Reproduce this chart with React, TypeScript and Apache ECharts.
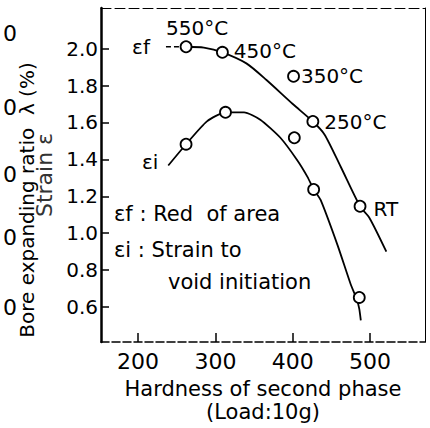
import React, { useEffect, useRef } from "react";
import * as echarts from "echarts";

// Measured points (hardness, strain)
const efX = [262, 309, 401, 426, 487];
const efY = [2.01, 1.98, 1.85, 1.605, 1.146];
const efLabels = ["550°C", "450°C", "350°C", "250°C", "RT"];
const eiX = [262, 313, 402, 427, 486];
const eiY = [1.482, 1.655, 1.517, 1.237, 0.652];

// Hand-drawn fitted curves
const efLeadX = [236, 262];
const efLeadY = [2.01, 2.01];
const efCurveX = [262, 285, 309, 340, 366, 400, 426, 441, 462, 487, 499, 521];
const efCurveY = [2.01, 2.005, 1.98, 1.92, 1.83, 1.7, 1.605, 1.535, 1.36, 1.146, 1.084, 0.9];
const eiCurveX = [239, 262, 289, 313, 337, 358, 384, 406, 419, 427, 436, 458, 475, 483, 486, 488];
const eiCurveY = [1.367, 1.482, 1.606, 1.655, 1.655, 1.615, 1.517, 1.394, 1.305, 1.237, 1.18, 0.934, 0.722, 0.64, 0.59, 0.528];

const xTicks = [200, 300, 400, 500];
const yTicks = [0.6, 0.8, 1.0, 1.2, 1.4, 1.6, 1.8, 2.0];

const curveNames = ["εf", "εi"];
const legendLines = ["εf : Red  of area", "εi : Strain to", "void initiation"];
const leftZeros = ["0", "0", "0", "0", "0"];

const FONT = "'DejaVu Sans', sans-serif";

export default function App() {
  const ref = useRef<HTMLDivElement>(null);
  useEffect(() => {
    if (!ref.current) return;
    const chart = echarts.init(ref.current, undefined, { renderer: "svg" });
    const zip = (xs: number[], ys: number[]) => xs.map((x, i) => [x, ys[i]]);
    const efLabelCfg = [
      { position: "top", offset: [11, 3] },
      { position: "right", offset: [0, -1] },
      { position: "right", offset: [-4, 0] },
      { position: "right", offset: [0, 0] },
      { position: "right", offset: [2, 3] },
    ];
    const zeroY = [33, 107, 174, 237, 307];
    const option: any = {
      animation: false,
      backgroundColor: "#fff",
      textStyle: { fontFamily: FONT, color: "#000" },
      grid: { left: 101, top: 8, right: 5, bottom: 79 },
      xAxis: [
        {
          type: "value",
          min: 152,
          max: 571,
          name: "Hardness of second phase\n(Load:10g)",
          nameLocation: "middle",
          nameGap: 30,
          nameTextStyle: { fontSize: 21, color: "#000", fontFamily: FONT, lineHeight: 23 },
          axisLine: { show: true, lineStyle: { color: "#000", width: 1.5, type: [8, 3] } },
          axisTick: { show: true, inside: true, length: 9, customValues: xTicks, lineStyle: { color: "#000", width: 1.5 } },
          axisLabel: { customValues: xTicks, fontSize: 22, color: "#000", margin: 8, fontFamily: FONT },
          splitLine: { show: false },
        },
        {
          type: "value",
          position: "top",
          min: 152,
          max: 571,
          axisLine: { show: true, lineStyle: { color: "#000", width: 1, type: [10, 4] } },
          axisTick: { show: false },
          axisLabel: { show: false },
          splitLine: { show: false },
        },
      ],
      yAxis: [
        {
          type: "value",
          min: 0.41,
          max: 2.22,
          name: "Strain ε",
          nameLocation: "middle",
          nameGap: 43,
          nameTextStyle: { fontSize: 22, color: "#333", fontFamily: FONT },
          axisLine: { show: true, lineStyle: { color: "#000", width: 2.5 } },
          axisTick: { show: true, inside: true, length: 8, customValues: yTicks, lineStyle: { color: "#000", width: 1.5 } },
          axisLabel: {
            customValues: yTicks,
            fontSize: 20,
            color: "#000",
            margin: 3,
            fontFamily: FONT,
            formatter: (v: number) => v.toFixed(1),
          },
          splitLine: { show: false },
        },
        {
          type: "value",
          position: "right",
          min: 0.41,
          max: 2.22,
          axisLine: { show: true, lineStyle: { color: "#000", width: 1 } },
          axisTick: { show: false },
          axisLabel: { show: false },
          splitLine: { show: false },
        },
      ],
      series: [
        {
          type: "line",
          data: zip(efLeadX, efLeadY),
          symbol: "none",
          lineStyle: { color: "#000", width: 1.5, type: [5, 3] },
          z: 2,
        },
        {
          type: "line",
          data: zip(efCurveX, efCurveY),
          smooth: 0.25,
          symbol: "none",
          lineStyle: { color: "#000", width: 1.8 },
          z: 2,
        },
        {
          type: "line",
          data: zip(eiCurveX, eiCurveY),
          smooth: 0.2,
          symbol: "none",
          lineStyle: { color: "#000", width: 1.8 },
          z: 2,
        },
        {
          // curve name tags placed at each curve's starting node
          type: "scatter",
          data: [
            { value: [efLeadX[0], efLeadY[0]], label: { formatter: curveNames[0], distance: 16, offset: [0, 0] } },
            { value: [eiCurveX[0], eiCurveY[0]], label: { formatter: curveNames[1], distance: 10, offset: [0, -3] } },
          ],
          symbol: "circle",
          symbolSize: 0,
          itemStyle: { opacity: 1, color: "#000" },
          label: { show: true, position: "left", fontSize: 20, color: "#000", fontFamily: FONT },
          z: 4,
        },
        {
          type: "scatter",
          data: zip(efX, efY).map((d, i) => ({
            value: d,
            label: {
              show: true,
              formatter: efLabels[i],
              position: efLabelCfg[i].position,
              offset: efLabelCfg[i].offset,
              fontSize: 20,
              color: "#000",
              fontFamily: FONT,
            },
          })),
          symbol: "circle",
          symbolSize: 11,
          itemStyle: { color: "#fff", borderColor: "#000", borderWidth: 1.8, opacity: 1 },
          z: 5,
        },
        {
          type: "scatter",
          data: zip(eiX, eiY),
          symbol: "circle",
          symbolSize: 11,
          itemStyle: { color: "#fff", borderColor: "#000", borderWidth: 1.8, opacity: 1 },
          z: 5,
        },
      ],
      graphic: [
        {
          type: "text",
          x: 27,
          y: 200,
          rotation: Math.PI / 2,
          style: {
            text: "Bore expanding ratio  λ (%)",
            fontSize: 20,
            fontFamily: FONT,
            fill: "#000",
            align: "center",
            verticalAlign: "middle",
          },
        },
        ...leftZeros.map((t, i) => ({
          type: "text",
          x: 17,
          y: zeroY[i],
          style: { text: t, fontSize: 22, fontFamily: FONT, fill: "#000", align: "right", verticalAlign: "middle" },
        })),
        {
          type: "text",
          x: 114,
          y: 214,
          style: { text: legendLines[0], fontSize: 21, fontFamily: FONT, fill: "#000", align: "left", verticalAlign: "middle" },
        },
        {
          type: "text",
          x: 114,
          y: 250,
          style: { text: legendLines[1], fontSize: 21, fontFamily: FONT, fill: "#000", align: "left", verticalAlign: "middle" },
        },
        {
          type: "text",
          x: 168,
          y: 282,
          style: { text: legendLines[2], fontSize: 21, fontFamily: FONT, fill: "#000", align: "left", verticalAlign: "middle" },
        },
      ],
    };
    chart.setOption(option);
    return () => chart.dispose();
  }, []);
  return <div ref={ref} style={{ position: "fixed", left: 0, top: 0, width: 430, height: 428 }} />;
}
